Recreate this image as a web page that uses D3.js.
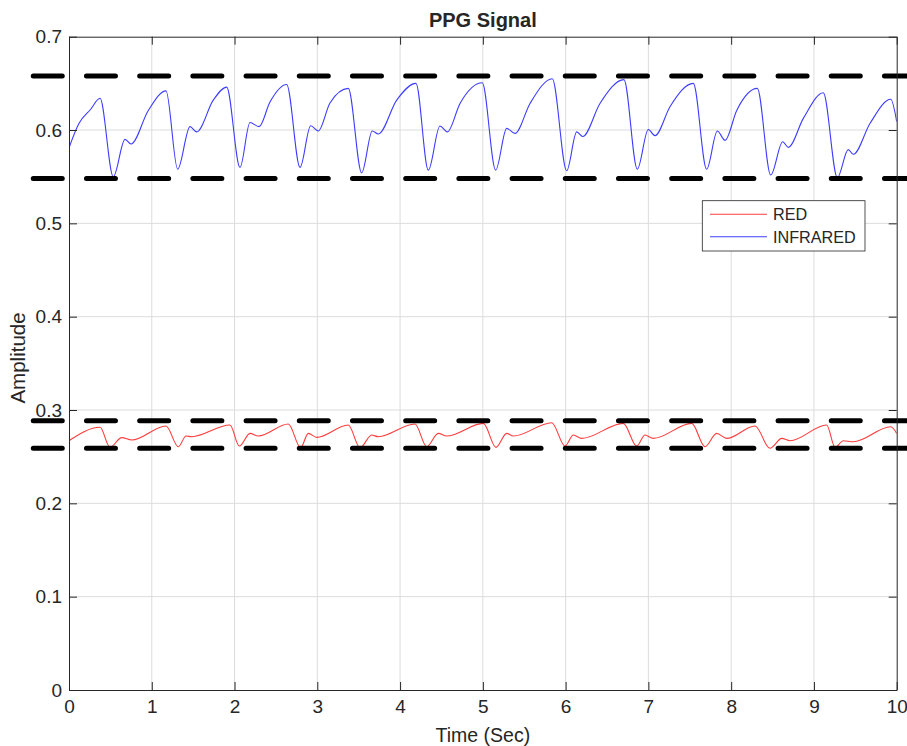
<!DOCTYPE html>
<html>

<head>
    <meta charset="utf-8">
    <title>PPG Signal</title>
    <style>
        body {
            margin: 0;
            background: #fff;
        }

        text {
            font-family: "Liberation Sans", Arial, Helvetica, sans-serif;
            fill: #262626;
        }

        .grid line {
            stroke: #dcdcdc;
            stroke-width: 1px;
        }

        .signal {
            fill: none;
            stroke-width: 1.1px;
        }

        .limit {
            stroke: #000;
            stroke-width: 5px;
            stroke-linecap: round;
            stroke-dasharray: 29 24.2;
        }
    </style>

    <script src="https://d3js.org/d3.v7.min.js"></script>

</head>

<body>
    <script>
        // values (time in s, amplitude)
        var irTime = [0, 0.12, 0.26, 0.375, 0.535, 0.677, 0.749, 0.958, 1.172, 1.313, 1.462, 1.543, 1.743, 1.905,
            2.066, 2.187, 2.296, 2.428, 2.63, 2.791, 2.92, 3.012, 3.153, 3.374, 3.536, 3.664, 3.737, 3.959, 4.192,
            4.341, 4.482, 4.571, 4.724, 4.993, 5.155, 5.288, 5.388, 5.57, 5.839, 6.013, 6.134, 6.206, 6.415, 6.705,
            6.866, 6.999, 7.08, 7.261, 7.543, 7.704, 7.833, 7.926, 8.067, 8.316, 8.478, 8.623, 8.69, 8.872, 9.113,
            9.283, 9.415, 9.476, 9.677, 9.928, 10];
        var irAmp = [0.581, 0.607, 0.622, 0.634, 0.550, 0.590, 0.585, 0.621, 0.642, 0.558, 0.6036, 0.598, 0.632, 0.646,
            0.560, 0.608, 0.6036, 0.630, 0.6488, 0.560, 0.6046, 0.599, 0.629, 0.6446, 0.554, 0.599, 0.5957, 0.632, 0.650,
            0.557, 0.6043, 0.598, 0.6285, 0.6507, 0.557, 0.6018, 0.5964, 0.6285, 0.655, 0.5564, 0.598, 0.593, 0.6285, 0.654,
            0.558, 0.6005, 0.594, 0.625, 0.650, 0.558, 0.599, 0.589, 0.621, 0.6446, 0.5518, 0.5875, 0.5814, 0.6125, 0.640,
            0.549, 0.579, 0.574, 0.607, 0.6329, 0.609];

        var redTime = [0, 0.375, 0.495, 0.637, 0.758, 1.172, 1.321, 1.414, 1.482, 1.945, 2.058, 2.187, 2.287, 2.65,
            2.799, 2.891, 2.993, 3.374, 3.516, 3.657, 3.737, 4.18, 4.322, 4.462, 4.563, 5.006, 5.159, 5.288, 5.368,
            5.832, 5.993, 6.093, 6.194, 6.697, 6.859, 6.959, 7.059, 7.523, 7.684, 7.825, 7.946, 8.288, 8.469, 8.611,
            8.711, 9.154, 9.255, 9.355, 9.476, 9.928, 10];
        var redAmp = [0.2671, 0.2815, 0.260, 0.2704, 0.2679, 0.2829, 0.2607, 0.2721, 0.2714, 0.2839, 0.2614, 0.275, 0.2721,
            0.285, 0.2596, 0.275, 0.2707, 0.2839, 0.2596, 0.2732, 0.2714, 0.285, 0.2607, 0.275, 0.2721, 0.2857, 0.260,
            0.275, 0.2721, 0.2864, 0.2614, 0.2732, 0.2696, 0.2857, 0.2614, 0.2732, 0.2696, 0.2857, 0.2607, 0.275, 0.2696,
            0.2829, 0.259, 0.2696, 0.2671, 0.2839, 0.260, 0.2671, 0.266, 0.2821, 0.275];

        var limits = [0.658, 0.548, 0.2885, 0.259];
        var xTicks = [0, 1, 2, 3, 4, 5, 6, 7, 8, 9, 10];
        var yTicks = [0, 0.1, 0.2, 0.3, 0.4, 0.5, 0.6, 0.7];
        var seriesNames = ["RED", "INFRARED"];
        var seriesColors = ["#ff3c3c", "#3c3cff"];

        var w = 907;
        var h = 746;
        var pL = 69, pR = 896.7, pT = 36.7, pB = 690;

        var svg = d3.select("body").append("svg")
            .attr("width", w)
            .attr("height", h);

        var x = d3.scaleLinear().domain([0, 10]).range([pL, pR]);
        var y = d3.scaleLinear().domain([0, 0.7]).range([pB, pT]);

        // grid
        var grid = svg.append("g").attr("class", "grid");
        grid.selectAll(".gx")
            .data(xTicks.slice(1, -1))
            .enter().append("line")
            .attr("x1", d => x(d)).attr("x2", d => x(d))
            .attr("y1", pT).attr("y2", pB);
        grid.selectAll(".gy")
            .data(yTicks.slice(1, -1))
            .enter().append("line")
            .attr("y1", d => y(d)).attr("y2", d => y(d))
            .attr("x1", pL).attr("x2", pR);

        svg.append("clipPath").attr("id", "plot")
            .append("rect")
            .attr("x", pL).attr("y", pT)
            .attr("width", pR - pL).attr("height", pB - pT);

        var line = d3.line()
            .x(d => x(d[0]))
            .y(d => y(d[1]))
            .curve(d3.curveMonotoneX);

        svg.append("path")
            .attr("class", "signal")
            .attr("clip-path", "url(#plot)")
            .attr("stroke", seriesColors[0])
            .attr("d", line(d3.zip(redTime, redAmp)));

        svg.append("path")
            .attr("class", "signal")
            .attr("clip-path", "url(#plot)")
            .attr("stroke", seriesColors[1])
            .attr("d", line(d3.zip(irTime, irAmp)));

        // threshold lines, drawn past the axes as in the original
        svg.selectAll(".limit")
            .data(limits)
            .enter().append("line")
            .attr("class", "limit")
            .attr("x1", x(-0.4317)).attr("x2", x(10.3))
            .attr("y1", d => y(d)).attr("y2", d => y(d));

        // axes
        var tickLen = 8;
        var axisB = svg.append("g")
            .attr("transform", "translate(0," + pB + ")")
            .call(d3.axisBottom(x).tickValues(xTicks).tickSize(-tickLen).tickPadding(10).tickSizeOuter(0));
        var axisT = svg.append("g")
            .attr("transform", "translate(0," + pT + ")")
            .call(d3.axisTop(x).tickValues(xTicks).tickSize(-tickLen).tickFormat("").tickSizeOuter(0));
        var axisL = svg.append("g")
            .attr("transform", "translate(" + pL + ",0)")
            .call(d3.axisLeft(y).tickValues(yTicks).tickSize(-tickLen).tickPadding(7).tickSizeOuter(0)
                .tickFormat(d => d === 0 ? "0" : d3.format(".1f")(d)));
        var axisR = svg.append("g")
            .attr("transform", "translate(" + pR + ",0)")
            .call(d3.axisRight(y).tickValues(yTicks).tickSize(-tickLen).tickFormat("").tickSizeOuter(0));

        [axisB, axisT, axisL, axisR].forEach(function (g) {
            g.select(".domain").attr("stroke", "#262626").attr("stroke-width", 1);
            g.selectAll(".tick line").attr("stroke", "#262626");
            g.selectAll(".tick text")
                .attr("font-family", "Liberation Sans, Arial, sans-serif")
                .attr("font-size", 19)
                .attr("fill", "#262626");
        });

        // labels
        svg.append("text")
            .attr("x", (pL + pR) / 2).attr("y", 27)
            .attr("text-anchor", "middle")
            .attr("font-weight", "bold")
            .attr("font-size", 20)
            .text("PPG Signal");

        svg.append("text")
            .attr("x", (pL + pR) / 2).attr("y", 742)
            .attr("text-anchor", "middle")
            .attr("font-size", 19.5)
            .text("Time (Sec)");

        svg.append("text")
            .attr("transform", "translate(25,358) rotate(-90)")
            .attr("text-anchor", "middle")
            .attr("font-size", 20.5)
            .text("Amplitude");

        // legend
        var lg = svg.append("g");
        lg.append("rect")
            .attr("x", 702.3).attr("y", 200.7)
            .attr("width", 162.7).attr("height", 50.3)
            .attr("fill", "#fff")
            .attr("stroke", "#262626")
            .attr("stroke-width", 0.8);
        var item = lg.selectAll(".item")
            .data(seriesNames)
            .enter().append("g")
            .attr("transform", (d, i) => "translate(0," + (214.3 + i * 22.4) + ")");
        item.append("line")
            .attr("x1", 710).attr("x2", 767)
            .attr("stroke", (d, i) => seriesColors[i])
            .attr("stroke-width", 1.1);
        item.append("text")
            .attr("x", 773).attr("y", 6)
            .attr("font-size", 16.2)
            .attr("fill", "#000")
            .text(d => d);
    </script>

</body>

</html>
